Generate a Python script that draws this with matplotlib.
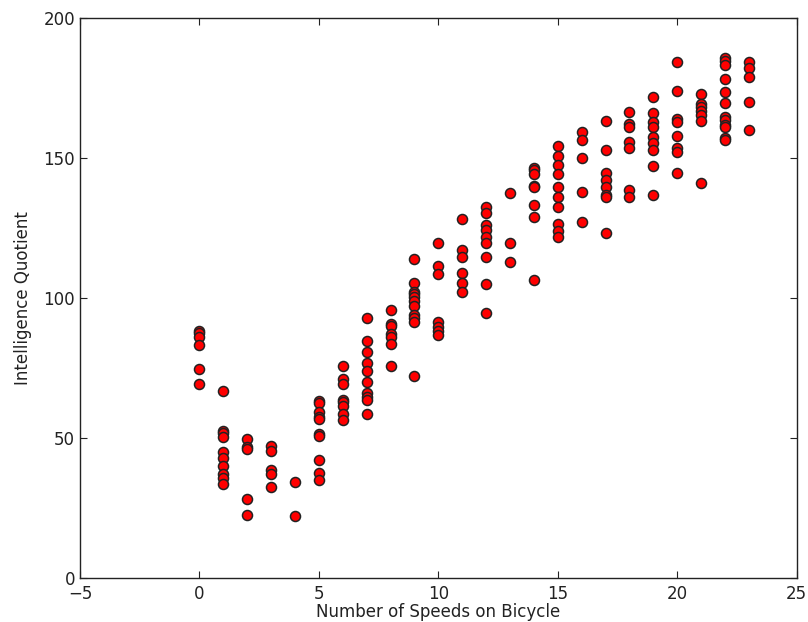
import numpy as np
import matplotlib
matplotlib.use("Agg")
import matplotlib.pyplot as plt

# IQ values read per number of speeds
iq_by_speed = {
    0: [88.3, 87.4, 86.2, 83.2, 74.5, 69.2],
    1: [66.9, 52.6, 51.7, 50.2, 45.1, 42.7, 40.1, 37.1, 35.6, 33.5],
    2: [49.5, 46.9, 46.0, 28.1, 22.5],
    3: [47.1, 45.5, 38.6, 37.1, 32.4],
    4: [34.4, 22.3],
    5: [63.3, 62.6, 59.4, 57.4, 56.7, 51.4, 50.7, 42.1, 37.4, 35.0],
    6: [75.8, 71.1, 69.3, 63.6, 62.8, 61.5, 58.5, 56.4],
    7: [92.8, 84.8, 80.8, 76.9, 73.9, 70.1, 66.2, 64.8, 63.6, 58.7],
    8: [95.8, 90.7, 90.0, 87.0, 86.2, 83.5, 75.7],
    9: [114.0, 105.2, 102.0, 101.3, 100.3, 98.9, 97.1, 93.9, 93.0, 91.5, 72.3],
    10: [119.6, 111.4, 108.6, 91.5, 89.8, 88.2, 86.8],
    11: [128.2, 117.1, 114.8, 108.8, 105.2, 102.3],
    12: [132.4, 130.3, 126.1, 124.3, 121.9, 119.5, 114.5, 104.9, 94.5],
    13: [137.4, 119.8, 112.9],
    14: [146.3, 145.7, 144.3, 140.0, 139.5, 133.1, 129.0, 106.3],
    15: [154.3, 150.7, 147.5, 144.3, 139.8, 136.0, 132.6, 126.4, 124.0, 121.9],
    16: [159.2, 156.3, 150.0, 137.9, 127.3],
    17: [163.3, 152.9, 144.5, 142.1, 139.5, 136.8, 136.0, 123.1],
    18: [166.5, 162.0, 161.2, 155.8, 153.5, 138.6, 136.0],
    19: [171.9, 166.0, 163.0, 161.2, 157.4, 155.3, 152.9, 147.1, 136.8],
    20: [184.4, 174.0, 163.8, 163.0, 158.0, 153.5, 152.3, 144.8],
    21: [172.9, 169.3, 168.3, 166.9, 165.4, 163.3, 141.0],
    22: [185.6, 184.8, 183.2, 178.1, 173.7, 169.5, 164.5, 163.6, 161.8, 161.0, 157.3, 156.4],
    23: [184.2, 182.0, 178.8, 169.9, 160.0],
}

speeds = []
iq = []
for s, vals in iq_by_speed.items():
    speeds += [s] * len(vals)
    iq += vals

fig = plt.figure(figsize=(8.08, 6.22), dpi=100)
ax = fig.add_axes([0.099, 0.0707, 0.887, 0.9003])

ax.scatter(speeds, iq, s=52, c="red", edgecolors="#222222", linewidths=1.1, zorder=3)

ax.set_xlim(-5, 25)
ax.set_ylim(0, 200)
ax.set_xticks(np.arange(-5, 26, 5))
ax.set_yticks(np.arange(0, 201, 50))
ax.tick_params(direction="in", length=5, top=True, right=True, labelsize=12,
               colors="#222222")
ax.tick_params(axis="x", pad=5)
for sp in ax.spines.values():
    sp.set_linewidth(1.0)
    sp.set_color("#222222")

ax.set_xlabel("Number of Speeds on Bicycle", fontsize=12, labelpad=0, color="#222222")
ax.set_ylabel("Intelligence Quotient", fontsize=12, labelpad=8, color="#222222")

fig.savefig("out.png", dpi=100)
